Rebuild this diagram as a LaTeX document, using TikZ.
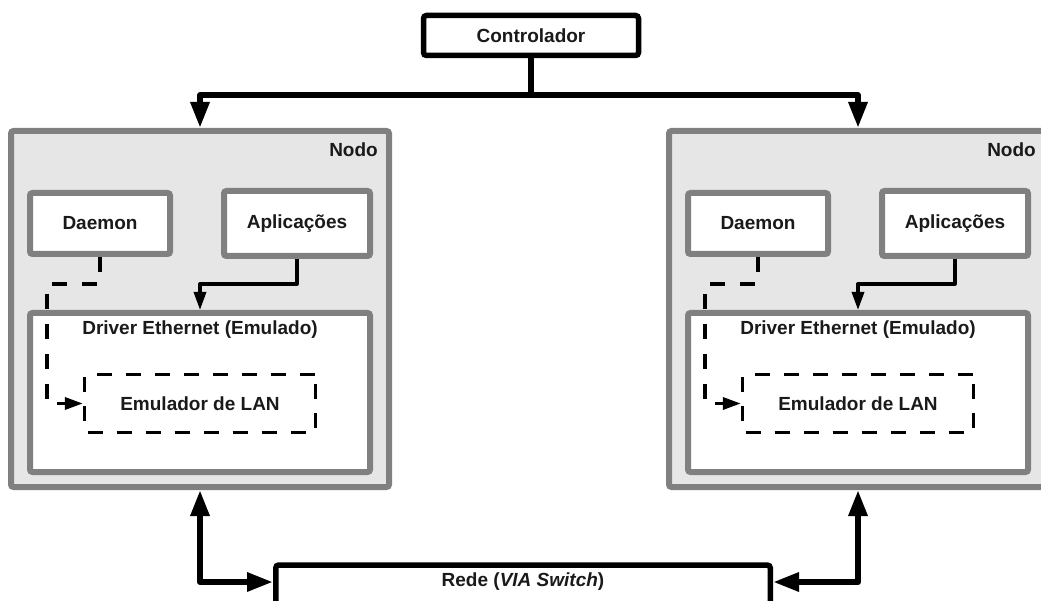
\documentclass[tikz,border=0pt]{standalone}
\usepackage{fontspec}
\setmainfont{Liberation Sans}
\usetikzlibrary{arrows.meta}
\definecolor{nodefill}{HTML}{E6E6E6}
\definecolor{boxgray}{HTML}{808080}
\definecolor{ink}{HTML}{1A1A1A}
\tikzset{
  txt/.style={font=\fontsize{19}{22}\selectfont\bfseries, text=ink, inner sep=0pt},
  nodobox/.style={draw=boxgray, fill=nodefill, line width=6pt, rounded corners=2.5pt,
    minimum width=378pt, minimum height=356pt, inner sep=0pt},
  innerbox/.style={txt, draw=boxgray, fill=white, line width=6pt, rounded corners=2.5pt},
  ctrlbox/.style={txt, draw=black, fill=white, line width=5.5pt, rounded corners=3pt},
  emubox/.style={txt, draw=black, line width=3.3pt, dash pattern=on 15pt off 14pt,
    rounded corners=1pt},
  bigarrow/.style={draw=black, line width=6pt, line join=round,
    -{Triangle[length=26pt,width=18pt]}},
  bigboth/.style={draw=black, line width=6pt, line join=round,
    {Triangle[length=26pt,width=18pt]}-{Triangle[length=26pt,width=18pt]}},
  smallarrow/.style={draw=black, line width=3.3pt, line join=round,
    -{Triangle[length=18pt,width=12pt]}},
  dasharrow/.style={smallarrow, dash pattern=on 15pt off 15pt}
}
\begin{document}
\begin{tikzpicture}[x=1pt,y=-1pt]
\useasboundingbox (0,0) rectangle (1041,601);
\clip (0,0) rectangle (1041,601);

% controller on top
\node[ctrlbox, minimum width=215pt, minimum height=40pt] (ctrl) at (531,35.5) {Controlador};

% network switch at the bottom
\node[ctrlbox, minimum width=494.5pt, minimum height=50pt] (rede) at (523,590) {};
\node[txt] (redet) at (523,582) {Rede (\textit{VIA Switch})};

% the two cluster nodes
\foreach \s/\dx in {L/0,R/658}{
  \begin{scope}[xshift=\dx pt]
    \node[nodobox] (n\s) at (200,309) {};
    \node[txt, anchor=east] (nt\s) at (378,150) {Nodo};
    \node[innerbox, minimum width=140pt, minimum height=61pt] (d\s) at (100,223.5) {Daemon};
    \node[innerbox, minimum width=146pt, minimum height=65pt] (a\s) at (297,223.5) {Aplicações};
    \node[innerbox, minimum width=340pt, minimum height=159pt] (dr\s) at (200,392.5) {};
    \node[txt] (drt\s) at (200,330) {Driver Ethernet (Emulado)};
    \node[emubox, minimum width=231pt, minimum height=58pt] (e\s) at (200,403.5) {Emulador de LAN};
    % daemon -> LAN emulator
    \draw[dasharrow] (d\s.south) -- ++(0,27) -| ([xshift=-36pt]e\s.west) -- (e\s.west);
    % applications -> driver
    \draw[smallarrow] (a\s.south) -- ++(0,25) -| (dr\s.north);
  \end{scope}
  % controller -> node
  \draw[bigarrow] (ctrl.south) -- ++(0,37) -| (n\s.north);
}

% nodes <-> network
\draw[bigboth] (nL.south) |- ([yshift=8pt]rede.west);
\draw[bigboth] (nR.south) |- ([yshift=8pt]rede.east);
\end{tikzpicture}
\end{document}
